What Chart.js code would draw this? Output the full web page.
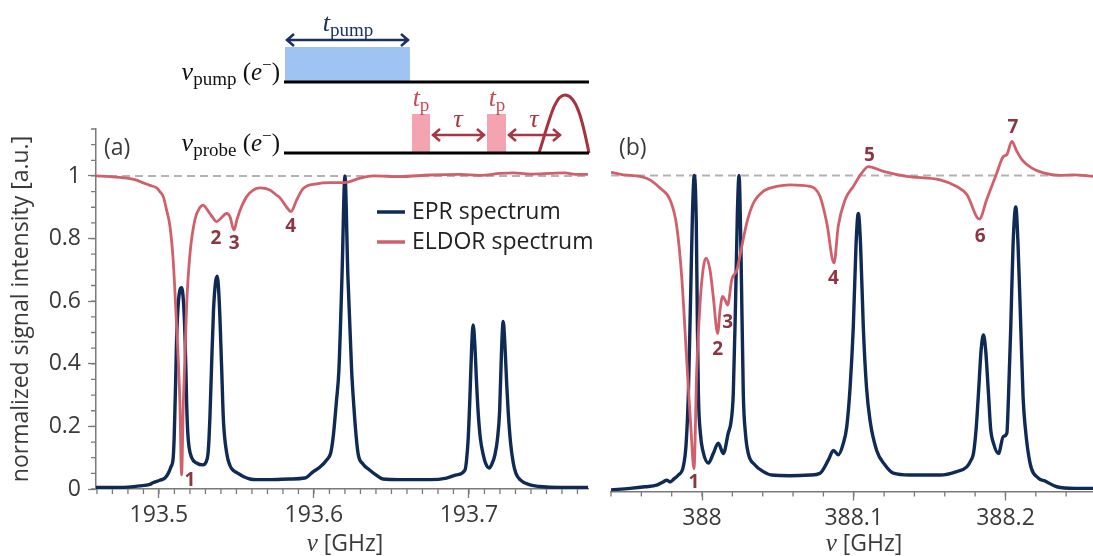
<!DOCTYPE html>
<html>
<head>
<meta charset="utf-8">
<script src="https://cdn.jsdelivr.net/npm/chart.js@4.4.0/dist/chart.umd.min.js"></script>
<style>
  body { margin: 0; background: #fff; }
  #wrap { position: relative; width: 1093px; height: 556px; }
  .box { position: absolute; top: 0; height: 556px; }
</style>
</head>
<body>
<div id="wrap">
  <div class="box" style="left:0;width:600px"><canvas id="chartA"></canvas></div>
  <div class="box" style="left:600px;width:493px"><canvas id="chartB"></canvas></div>
</div>
<script>
// ---- data (frequencies in GHz, intensities normalized) ----
const xRangeA = [193.4594, 193.7768];
const xRangeB = [387.94, 388.2577];
const yRange = [0, 1.15];
const xTicksA = [193.5, 193.6, 193.7];
const xTicksB = [388, 388.1, 388.2];
const yTicks = [0, 0.2, 0.4, 0.6, 0.8, 1];
const refLevel = 1;
const seriesNames = ["EPR spectrum", "ELDOR spectrum"];

// panel (a), 193.6 GHz
const eprA = [
  [193.4594,0.005],[193.4748,0.005],[193.4877,0.01],[193.4942,0.015],[193.4961,0.02],
  [193.5006,0.028],[193.5039,0.035],[193.506,0.05],[193.5077,0.07],[193.5092,0.1],
  [193.5098,0.16],[193.5103,0.25],[193.5109,0.37],[193.5114,0.48],[193.5126,0.6],[193.5146,0.643],[193.5158,0.6],
  [193.5168,0.49],[193.5174,0.38],[193.5179,0.27],[193.5186,0.18],[193.5194,0.135],[193.5211,0.1],[193.5243,0.083],
  [193.5284,0.077],[193.5303,0.085],[193.5316,0.11],[193.5323,0.16],[193.5329,0.23],[193.534,0.4],
  [193.5352,0.57],[193.5365,0.66],[193.5376,0.68],[193.5389,0.6],[193.5405,0.38],
  [193.5416,0.22],[193.5437,0.115],[193.5458,0.075],[193.5479,0.06],[193.551,0.05],
  [193.5544,0.04],[193.5587,0.032],[193.563,0.03],[193.5716,0.03],[193.5845,0.032],
  [193.5942,0.035],[193.5994,0.055],[193.6039,0.07],[193.6082,0.093],[193.6108,0.115],
  [193.6125,0.17],[193.6145,0.28],[193.6161,0.38],[193.6181,0.68],[193.62,1.0],[193.6219,0.68],
  [193.6243,0.38],[193.6258,0.26],[193.6272,0.17],[193.6286,0.11],[193.6316,0.08],[193.6361,0.06],
  [193.64,0.045],[193.6445,0.032],[193.6555,0.03],[193.6748,0.03],[193.6856,0.035],
  [193.692,0.045],[193.6974,0.06],[193.6984,0.09],[193.6995,0.16],[193.7006,0.29],[193.7018,0.46],
  [193.7027,0.524],[193.7038,0.46],[193.705,0.33],[193.706,0.24],[193.7074,0.16],[193.7092,0.11],
  [193.7109,0.08],[193.7131,0.067],[193.7148,0.08],[193.7168,0.11],[193.7184,0.16],
  [193.7198,0.25],[193.721,0.44],[193.7221,0.535],[193.7232,0.46],[193.7244,0.33],[193.7254,0.24],
  [193.7268,0.15],[193.7286,0.083],[193.7303,0.05],[193.7329,0.03],[193.7394,0.013],
  [193.7458,0.008],[193.7587,0.005],[193.7768,0.005]
];
const eldorA = [
  [193.4594,1.0],[193.4684,0.998],[193.4792,0.993],[193.4845,0.988],[193.4899,0.978],
  [193.4942,0.97],[193.4985,0.962],[193.5006,0.95],[193.5028,0.934],[193.505,0.89],
  [193.5071,0.84],[193.5092,0.73],[193.5114,0.52],[193.5135,0.28],[193.5146,0.045],
  [193.5157,0.27],[193.5179,0.59],[193.52,0.75],[193.5232,0.86],[193.5265,0.9],
  [193.5286,0.907],[193.5308,0.895],[193.5329,0.88],[193.535,0.865],[193.5372,0.854],
  [193.54,0.865],[193.5437,0.88],[193.5458,0.87],[193.5484,0.827],[193.5503,0.86],
  [193.5523,0.89],[193.5566,0.934],[193.5608,0.955],[193.5652,0.962],[193.5716,0.955],
  [193.5755,0.94],[193.5781,0.93],[193.5824,0.9],[193.5852,0.886],[193.5888,0.923],
  [193.5931,0.96],[193.6017,0.975],[193.6103,0.979],[193.62,0.979],[193.6297,0.993],
  [193.6383,1.0],[193.6555,0.998],[193.6748,1.003],[193.6942,1.005],[193.7071,1.002],
  [193.72,1.008],[193.7284,1.01],[193.7394,1.006],[193.7523,1.008],[193.7619,1.01],
  [193.7684,1.005],[193.7768,1.005]
];
const peaksA = [["1",193.52,0.027],["2",193.5368,0.8],["3",193.5486,0.783],["4",193.585,0.838]];

// panel (b), 388 GHz
const eprB = [
  [387.94,0.005],[387.9525,0.01],[387.9624,0.015],[387.9701,0.02],[387.9743,0.03],
  [387.9767,0.036],[387.9789,0.03],[387.9815,0.04],[387.9844,0.052],[387.9877,0.08],
  [387.9895,0.15],[387.991,0.31],[387.9924,0.6],[387.9937,0.88],[387.9949,1.0],
  [387.9962,0.85],[387.9969,0.55],[387.9976,0.31],[387.999,0.18],[388.0005,0.13],[388.0042,0.09],
  [388.0074,0.12],[388.0107,0.153],[388.014,0.12],[388.0173,0.185],[388.0191,0.22],
  [388.0206,0.31],[388.0221,0.6],[388.0233,0.88],[388.0244,1.0],[388.0257,0.75],
  [388.0272,0.31],[388.0287,0.18],[388.0305,0.12],[388.0349,0.084],[388.0404,0.063],
  [388.0459,0.052],[388.058,0.05],[388.0712,0.052],[388.0778,0.058],[388.0833,0.1],
  [388.0866,0.13],[388.0898,0.116],[388.093,0.15],[388.0954,0.205],[388.0976,0.33],
  [388.0997,0.52],[388.1015,0.78],[388.103,0.88],[388.1045,0.78],[388.1063,0.52],
  [388.1084,0.33],[388.1107,0.226],[388.1151,0.13],[388.1206,0.084],[388.1261,0.058],
  [388.1371,0.052],[388.1569,0.052],[388.1679,0.063],[388.1745,0.078],[388.1774,0.1],
  [388.1789,0.12],[388.1807,0.2],[388.1822,0.31],[388.184,0.45],[388.1855,0.495],
  [388.1869,0.45],[388.1888,0.31],[388.1902,0.2],[388.1921,0.153],[388.1954,0.12],
  [388.1986,0.174],[388.2009,0.184],[388.202,0.3],[388.2035,0.52],[388.205,0.78],
  [388.2068,0.9],[388.2083,0.78],[388.2101,0.52],[388.2116,0.3],[388.213,0.205],
  [388.2162,0.09],[388.2217,0.042],[388.2261,0.033],[388.2338,0.015],[388.2459,0.01],
  [388.2577,0.01]
];
const eldorB = [
  [387.94,1.01],[387.9481,1.002],[387.9591,0.997],[387.9657,0.986],[387.9723,0.96],
  [387.9789,0.923],[387.9833,0.84],[387.9866,0.68],[387.9899,0.416],[387.9926,0.205],
  [387.9947,0.072],[387.9965,0.385],[387.9987,0.596],[388.0009,0.71],[388.0026,0.738],
  [388.0053,0.7],[388.0074,0.617],[388.0103,0.5],[388.0119,0.575],[388.0136,0.617],
  [388.0152,0.606],[388.0169,0.59],[388.0196,0.67],[388.0229,0.7],[388.0262,0.775],
  [388.0295,0.85],[388.0338,0.912],[388.0404,0.95],[388.0492,0.965],[388.058,0.97],
  [388.0712,0.965],[388.0778,0.933],[388.0822,0.85],[388.087,0.723],[388.0898,0.84],
  [388.0943,0.923],[388.0997,0.965],[388.1042,1.0],[388.1096,1.028],[388.1195,1.013],
  [388.1349,0.997],[388.1569,0.986],[388.1679,0.965],[388.1745,0.94],[388.1828,0.862],
  [388.1876,0.923],[388.1943,1.008],[388.1986,1.06],[388.2009,1.066],[388.2042,1.108],
  [388.2071,1.08],[388.2108,1.05],[388.2174,1.023],[388.225,1.008],[388.236,1.0],
  [388.2448,1.002],[388.2577,0.997]
];
const peaksB = [["1",387.9947,0.027],["2",388.0103,0.448],["3",388.0169,0.535],["4",388.0866,0.675],
                ["5",388.1103,1.062],["6",388.1833,0.807],["7",388.205,1.151]];

// ---- styles ----
const eprColor = "#102a56";
const eldorColor = "#cf606c";
const peakColor = "#8c3643";
const axisColor = "#7a7a7a";
const textColor = "#3a3a3a";
const FONT = "'Open Sans', sans-serif";
const SERIF = "'Liberation Serif', 'DejaVu Serif', serif";

function pts(arr) { return arr.map(p => ({ x: p[0], y: p[1] })); }

// draw a sequence of text runs (for sub/superscripts)
function drawRuns(ctx, x, y, runs, align) {
  let w = 0;
  runs.forEach(r => { ctx.font = r.f; w += ctx.measureText(r.t).width; });
  let cx = align === "right" ? x - w : align === "center" ? x - w / 2 : x;
  ctx.textAlign = "left";
  ctx.textBaseline = "alphabetic";
  runs.forEach(r => {
    ctx.font = r.f;
    ctx.fillStyle = r.c;
    ctx.fillText(r.t, cx, y + (r.dy || 0));
    cx += ctx.measureText(r.t).width;
  });
}

function dblArrow(ctx, x1, x2, y, color) {
  ctx.strokeStyle = color;
  ctx.lineWidth = 2.5;
  ctx.beginPath();
  ctx.moveTo(x1, y); ctx.lineTo(x2, y);
  ctx.moveTo(x1 + 8, y - 6); ctx.lineTo(x1 + 1, y); ctx.lineTo(x1 + 8, y + 6);
  ctx.moveTo(x2 - 8, y - 6); ctx.lineTo(x2 - 1, y); ctx.lineTo(x2 - 8, y + 6);
  ctx.stroke();
}

// minor ticks, peak numbers, panel letter, x title, legend
const decorations = {
  id: "decorations",
  afterDraw(chart, args, o) {
    const ctx = chart.ctx;
    const xs = chart.scales.x, ys = chart.scales.y;
    ctx.save();
    ctx.strokeStyle = axisColor;
    ctx.lineWidth = 1.3;
    ctx.beginPath();
    const n = Math.round((xs.max - xs.min) / o.xStep) + 1;
    const k0 = Math.ceil(xs.min / o.xStep);
    for (let k = k0; k < k0 + n; k++) {
      const px = xs.getPixelForValue(k * o.xStep);
      if (px > xs.right + 0.5) break;
      ctx.moveTo(px, xs.top); ctx.lineTo(px, xs.top + 5);
    }
    if (o.yStep) {
      for (let k = 0; k * o.yStep <= ys.max + 1e-9; k++) {
        const py = ys.getPixelForValue(k * o.yStep);
        ctx.moveTo(ys.right, py); ctx.lineTo(ys.right - 5, py);
      }
    }
    ctx.stroke();

    // peak numbers
    ctx.fillStyle = peakColor;
    ctx.font = "bold 19px " + FONT;
    ctx.textAlign = "center";
    ctx.textBaseline = "middle";
    o.peaks.forEach(p => ctx.fillText(p[0], xs.getPixelForValue(p[1]), ys.getPixelForValue(p[2])));

    // panel letter
    ctx.fillStyle = textColor;
    ctx.font = "23px " + FONT;
    ctx.textAlign = "left";
    ctx.fillText(o.letter, o.letterX, 148);

    // x title with italic nu
    drawRuns(ctx, o.titleX, 551, [
      { t: "ν", f: "italic 25px " + SERIF, c: textColor },
      { t: " [GHz]", f: "23px " + FONT, c: textColor }
    ], "center");

    // legend
    if (o.legend) {
      const ds = chart.data.datasets.filter(d => d.label);
      ds.forEach((d, i) => {
        const y = 212 + i * 30;
        ctx.strokeStyle = d.borderColor;
        ctx.lineWidth = 3.5;
        ctx.beginPath(); ctx.moveTo(377, y); ctx.lineTo(405, y); ctx.stroke();
        ctx.fillStyle = "#222";
        ctx.font = "23px " + FONT;
        ctx.textAlign = "left";
        ctx.textBaseline = "middle";
        ctx.fillText(d.label, 412, y);
      });
    }
    ctx.restore();
  }
};

// pulse sequence sketch above panel (a)
const pulseSketch = {
  id: "pulseSketch",
  afterDraw(chart) {
    const ctx = chart.ctx;
    ctx.save();
    // pump pulse
    ctx.fillStyle = "#9fc4f3";
    ctx.fillRect(285, 47, 125, 35);
    dblArrow(ctx, 286, 409, 40, "#1c3160");
    drawRuns(ctx, 348, 31, [
      { t: "t", f: "italic 26px " + SERIF, c: "#1c3160" },
      { t: "pump", f: "19px " + SERIF, c: "#1c3160", dy: 5 }
    ], "center");
    // probe pulses
    ctx.fillStyle = "#f4a4b1";
    ctx.fillRect(412, 114, 18, 39);
    ctx.fillRect(487, 114, 19, 39);
    [421, 497].forEach(x => drawRuns(ctx, x, 106, [
      { t: "t", f: "italic 26px " + SERIF, c: "#c84a57" },
      { t: "p", f: "19px " + SERIF, c: "#c84a57", dy: 5 }
    ], "center"));
    dblArrow(ctx, 432, 485, 135, "#a63845");
    dblArrow(ctx, 508, 561, 135, "#a63845");
    [458, 534].forEach(x => drawRuns(ctx, x, 127, [
      { t: "τ", f: "italic 26px " + SERIF, c: "#a63845" }
    ], "center"));
    // echo
    ctx.strokeStyle = "#a8323f";
    ctx.lineWidth = 3;
    ctx.beginPath();
    ctx.moveTo(539, 153);
    ctx.bezierCurveTo(550, 118, 555, 95, 565, 95);
    ctx.bezierCurveTo(576, 95, 582, 118, 589, 153);
    ctx.stroke();
    // base lines
    ctx.strokeStyle = "#000";
    ctx.lineWidth = 3;
    ctx.beginPath();
    ctx.moveTo(284, 82); ctx.lineTo(589, 82);
    ctx.moveTo(284, 153); ctx.lineTo(589, 153);
    ctx.stroke();
    // channel names
    [["pump", 82], ["probe", 153]].forEach(r => drawRuns(ctx, 280, r[1] - 2, [
      { t: "ν", f: "italic 26px " + SERIF, c: "#111" },
      { t: r[0], f: "19px " + SERIF, c: "#111", dy: 5 },
      { t: " (", f: "25px " + SERIF, c: "#111" },
      { t: "e", f: "italic 25px " + SERIF, c: "#111" },
      { t: "−", f: "17px " + SERIF, c: "#111", dy: -10 },
      { t: ")", f: "25px " + SERIF, c: "#111" }
    ], "right"));
    ctx.restore();
  }
};

function makeDatasets(epr, eldor, range) {
  return [
    { data: [{ x: range[0], y: refLevel }, { x: range[1], y: refLevel }],
      borderColor: "#b3b3b3", borderWidth: 2, borderDash: [8, 5], pointRadius: 0, order: 3 },
    { label: seriesNames[0], data: pts(epr), borderColor: eprColor, borderWidth: 3.4,
      pointRadius: 0, cubicInterpolationMode: "monotone", order: 2 },
    { label: seriesNames[1], data: pts(eldor), borderColor: eldorColor, borderWidth: 2.8,
      pointRadius: 0, cubicInterpolationMode: "monotone", order: 1 }
  ];
}

function xScale(range, ticks, height) {
  return {
    type: "linear", min: range[0], max: range[1],
    afterFit: s => { s.height = height; },
    afterBuildTicks: s => { s.ticks = ticks.map(v => ({ value: v })); },
    ticks: { color: textColor, font: { family: FONT, size: 23 }, padding: 4,
             maxRotation: 0, callback: v => String(Number(v.toFixed(2))) },
    grid: { drawOnChartArea: false, tickLength: 9, color: axisColor, tickWidth: 1.3 },
    border: { color: axisColor, width: 1.5 }
  };
}

const common = {
  responsive: true, maintainAspectRatio: false, animation: false,
  plugins: { legend: { display: false }, tooltip: { enabled: false } },
  elements: { line: { tension: 0 } }
};

new Chart(document.getElementById("chartA"), {
  type: "line",
  data: { datasets: makeDatasets(eprA, eldorA, xRangeA) },
  options: Object.assign({}, common, {
    layout: { padding: { top: 129, right: 12, left: 0, bottom: 0 } },
    scales: {
      x: xScale(xRangeA, xTicksA, 67),
      y: {
        type: "linear", min: yRange[0], max: yRange[1],
        afterFit: s => { s.width = 96; },
        afterBuildTicks: s => { s.ticks = yTicks.map(v => ({ value: v })); },
        ticks: { color: textColor, font: { family: FONT, size: 23 }, padding: 7,
                 callback: v => String(Number(v.toFixed(2))) },
        grid: { drawOnChartArea: false, tickLength: 8, color: axisColor, tickWidth: 1.3 },
        border: { color: axisColor, width: 1.5 },
        title: { display: true, text: "normalized signal intensity [a.u.]", color: textColor,
                 font: { family: FONT, size: 23 }, padding: { top: 8, bottom: 0 } }
      }
    },
    plugins: Object.assign({}, common.plugins, {
      decorations: { xStep: 0.01, yStep: 0.05, peaks: peaksA, letter: "(a)", letterX: 104,
                     titleX: 345, legend: true }
    })
  }),
  plugins: [decorations, pulseSketch]
});

new Chart(document.getElementById("chartB"), {
  type: "line",
  data: { datasets: makeDatasets(eprB, eldorB, xRangeB) },
  options: Object.assign({}, common, {
    layout: { padding: { top: 128, right: 0, left: 11, bottom: 0 } },
    scales: {
      x: xScale(xRangeB, xTicksB, 64.5),
      y: { type: "linear", min: yRange[0], max: yRange[1], display: false }
    },
    plugins: Object.assign({}, common.plugins, {
      decorations: { xStep: 0.02, yStep: 0, peaks: peaksB, letter: "(b)", letterX: 19,
                     titleX: 264, legend: false }
    })
  }),
  plugins: [decorations]
});
</script>
</body>
</html>
